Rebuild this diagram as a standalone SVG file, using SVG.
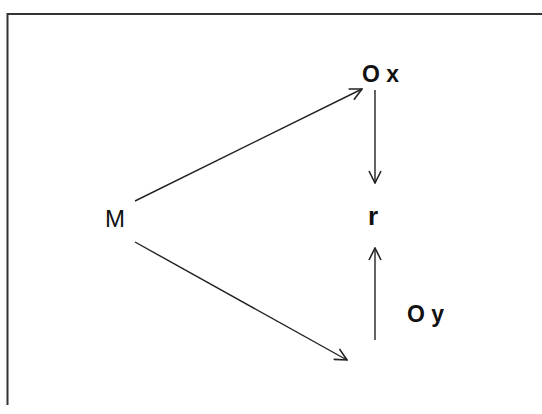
<svg xmlns="http://www.w3.org/2000/svg" width="542" height="414" viewBox="0 0 542 414">
<style>
.lbl{font-family:"Liberation Sans",Arial,sans-serif;fill:#111}
.b{font-weight:bold;font-size:23px}
.edge{stroke:#222;stroke-width:1.4;fill:none}
.frame{stroke:#333;stroke-width:2;fill:none}
</style>
<defs>
<marker id="ah" viewBox="0 0 14 14" refX="13" refY="7" markerWidth="14" markerHeight="14" markerUnits="userSpaceOnUse" orient="auto">
<path d="M1,1 L13,7 L1,13" fill="none" stroke="#222" stroke-width="1.6"/>
</marker>
</defs>
<rect width="542" height="414" fill="#fff"/>
<path class="frame" d="M542,14 L7.5,14 L7.5,405"/>
<g id="M"><text class="lbl" x="105" y="227" font-size="24">M</text></g>
<g id="Ox"><text class="lbl b" x="362" y="82">O x</text></g>
<g id="r"><text class="lbl b" x="368" y="225" style="font-size:26px">r</text></g>
<g id="Oy"><text class="lbl b" x="407" y="322">O y</text></g>
<g id="connectors">
<line class="edge" x1="135" y1="201" x2="362" y2="89" marker-end="url(#ah)"/>
<line class="edge" x1="135" y1="242" x2="347" y2="360" marker-end="url(#ah)"/>
<line class="edge" x1="375" y1="90" x2="375" y2="183" marker-end="url(#ah)"/>
<line class="edge" x1="375" y1="340" x2="375" y2="248" marker-end="url(#ah)"/>
</g>
</svg>
